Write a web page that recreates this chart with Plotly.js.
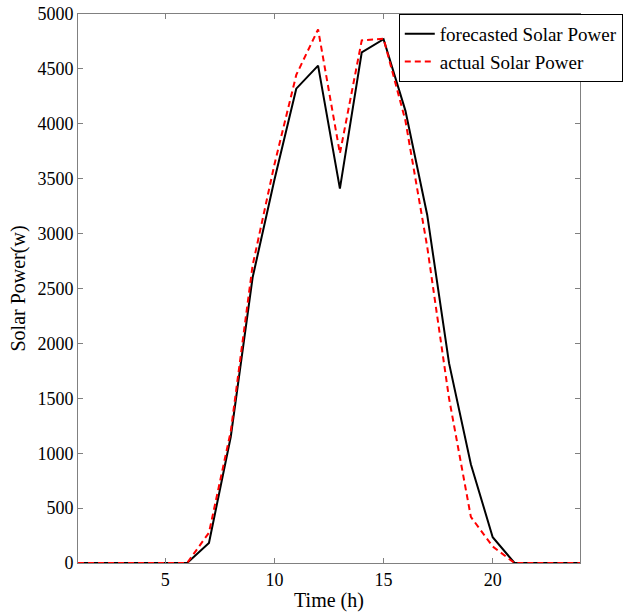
<!DOCTYPE html>
<html>
<head>
<meta charset="utf-8">
<script src="https://cdn.plot.ly/plotly-3.0.1.min.js"></script>
<style>html,body{margin:0;padding:0;background:#fff;}#chart{width:635px;height:612px;}</style>
</head>
<body>
<div id="chart"></div>
<script>
const hours = [1,2,3,4,5,6,7,8,9,10,11,12,13,14,15,16,17,18,19,20,21,22,23,24];
const forecasted = [0,0,0,0,0,0,182,1150,2600,3490,4320,4530,3410,4650,4770,4120,3170,1820,900,235,0,0,0,0];
const actual = [0,0,0,0,0,0,276,1200,2710,3630,4445,4860,3730,4760,4775,4030,2880,1500,420,150,0,0,0,0];
const seriesNames = ['forecasted Solar Power', 'actual Solar Power'];
const xTicks = [5,10,15,20];
const yTicks = [0,500,1000,1500,2000,2500,3000,3500,4000,4500,5000];

const serif = 'Liberation Serif, Times New Roman, serif';
const traces = [
  {x: hours, y: forecasted, name: seriesNames[0], type: 'scatter', mode: 'lines',
   line: {color: '#000000', width: 2}},
  {x: hours, y: actual, name: seriesNames[1], type: 'scatter', mode: 'lines',
   line: {color: '#ff0000', width: 2, dash: '6px,4px'}}
];
const axisCommon = {
  showgrid: false, zeroline: false, showline: true, linecolor: '#808080', linewidth: 1,
  mirror: 'ticks', ticks: 'inside', ticklen: 5, tickcolor: '#808080',
  tickfont: {family: serif, size: 18, color: '#000'}
};
const layout = {
  width: 635, height: 612,
  margin: {l: 78, r: 53, t: 14, b: 49},
  paper_bgcolor: '#fff', plot_bgcolor: '#fff',
  showlegend: true,
  legend: {x: 0.639, y: 1, xanchor: 'left', yanchor: 'top',
    bgcolor: '#fff', bordercolor: '#000', borderwidth: 1,
    font: {family: serif, size: 19, color: '#000'}, tracegroupgap: 0,
    itemwidth: 30},
  xaxis: Object.assign({}, axisCommon, {range: [1, 24], tickvals: xTicks,
    title: {text: 'Time (h)', font: {family: serif, size: 20, color: '#000'}, standoff: 4}}),
  yaxis: Object.assign({}, axisCommon, {range: [0, 5000], tickvals: yTicks,
    title: {text: 'Solar Power(w)', font: {family: serif, size: 20, color: '#000'}, standoff: 6}})
};
Plotly.newPlot('chart', traces, layout, {displayModeBar: false, staticPlot: true});
</script>
</body>
</html>
